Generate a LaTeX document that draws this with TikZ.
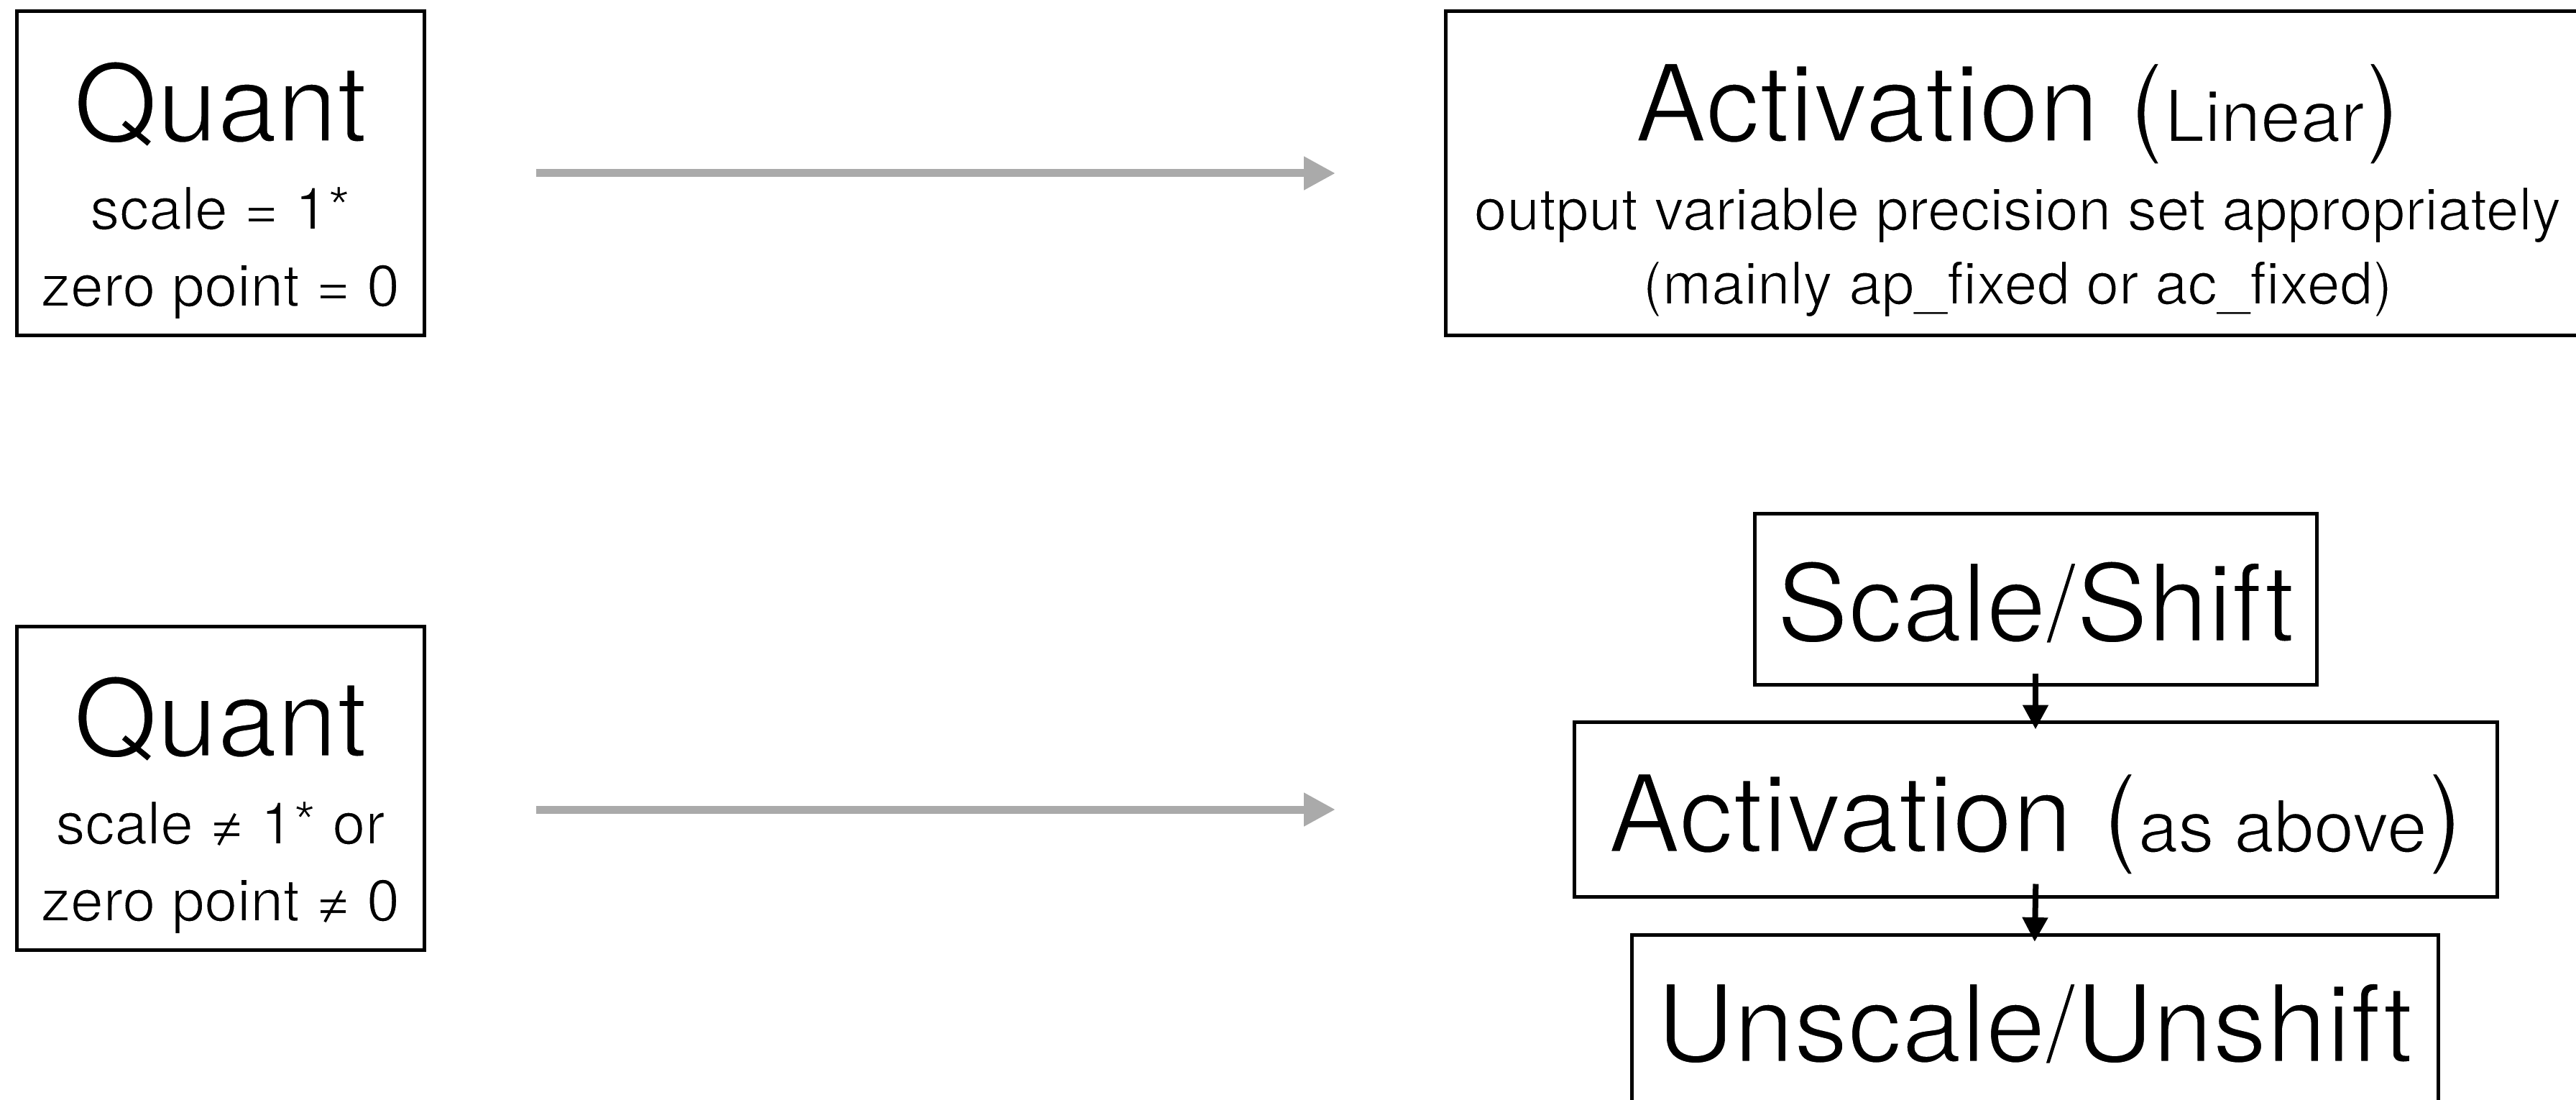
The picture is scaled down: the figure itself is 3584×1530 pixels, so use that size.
\documentclass[tikz,border=0pt]{standalone}
\usepackage{fontspec}
\setmainfont{TeX Gyre Heros}
\usetikzlibrary{arrows.meta}
\definecolor{flowgray}{HTML}{AAAAAA}
\newcommand{\bigtxt}{\fontsize{150}{180}\selectfont}
\newcommand{\midtxt}{\fontsize{100}{120}\selectfont}
\newcommand{\smalltxt}{\fontsize{82}{98}\selectfont}
% lighter glyphs: fill the outline and trim it with a thin white stroke
\newcommand{\lightset}[2]{%
  \special{pdf:literal direct 2 Tr 1 G #1 w}#2\special{pdf:literal direct 0 Tr 0 G}}
\tikzset{
  boxnode/.style={draw=black, line width=5pt, fill=none, inner sep=0pt, outer sep=0pt},
  label/.style={anchor=base, inner sep=0pt, outer sep=0pt},
  grayflow/.style={draw=flowgray, line width=11pt,
    -{Triangle[length=44pt, width=44pt]}},
  blackflow/.style={draw=black, line width=8pt,
    -{Triangle[length=34pt, width=34pt]}}
}
\begin{document}
\begin{tikzpicture}[x=1pt, y=-1pt]
\useasboundingbox (0,0) rectangle (3584,1530);

% left column: quantizer boxes
\node[boxnode, minimum width=567pt, minimum height=450pt] (q1) at (306.5,241) {};
\node[label, font=\bigtxt]   (q1t) at (306.5,197) {\lightset{3}{Quant}};
\node[label, font=\smalltxt] (q1a) at (306.5,319) {\lightset{1.6}{scale = 1*}};
\node[label, font=\smalltxt] (q1b) at (306.5,426) {\lightset{1.6}{zero point = 0}};

\node[boxnode, minimum width=567pt, minimum height=450pt] (q2) at (306.5,1096) {};
\node[label, font=\bigtxt]   (q2t) at (306.5,1052) {\lightset{3}{Quant}};
\node[label, font=\smalltxt] (q2a) at (306.5,1174) {\lightset{1.6}{scale ≠ 1* or}};
\node[label, font=\smalltxt] (q2b) at (306.5,1281) {\lightset{1.6}{zero point ≠ 0}};

% right column, top: plain linear activation
\node[boxnode, minimum width=1592pt, minimum height=450pt] (act1) at (2807,241) {};
\node[label, font=\bigtxt] (act1t) at (2807,197)
  {\lightset{3}{Activation (}{\midtxt\lightset{2}{Linear}}\lightset{3}{)}};
\node[label, font=\smalltxt] (act1a) at (2807,320)
  {\lightset{1.6}{output variable precision set appropriately}};
\node[label, font=\smalltxt] (act1b) at (2807,423)
  {\lightset{1.6}{(mainly ap\_fixed or ac\_fixed)}};

% right column, bottom: scale, activate, unscale
\node[boxnode, minimum width=782pt, minimum height=238pt] (ss) at (2832,833) {};
\node[label, font=\bigtxt] (sst) at (2832,892) {\lightset{3}{Scale/Shift}};

\node[boxnode, minimum width=1284pt, minimum height=243pt] (act2) at (2832,1126) {};
\node[label, font=\bigtxt] (act2t) at (2832,1185)
  {\lightset{3}{Activation (}{\midtxt\lightset{2}{as above}}\lightset{3}{)}};

\node[boxnode, minimum width=1122pt, minimum height=240pt] (us) at (2831,1420) {};
\node[label, font=\bigtxt] (ust) at (2831,1477) {\lightset{3}{Unscale/Unshift}};

% connectors
\draw[grayflow, shorten <=156pt, shorten >=153pt] (q1.east) -- (act1.west);
\draw[grayflow, shorten <=156pt, shorten >=153pt]
  ([yshift=-30pt]q2.east) -- ([yshift=-30pt]q2.east -| act1.west);
\draw[blackflow, shorten <=-15pt, shorten >=-10pt] (ss.south) -- (act2.north);
\draw[blackflow, shorten <=-18pt, shorten >=-10pt] (act2.south) -- (us.north);
\end{tikzpicture}
\end{document}
